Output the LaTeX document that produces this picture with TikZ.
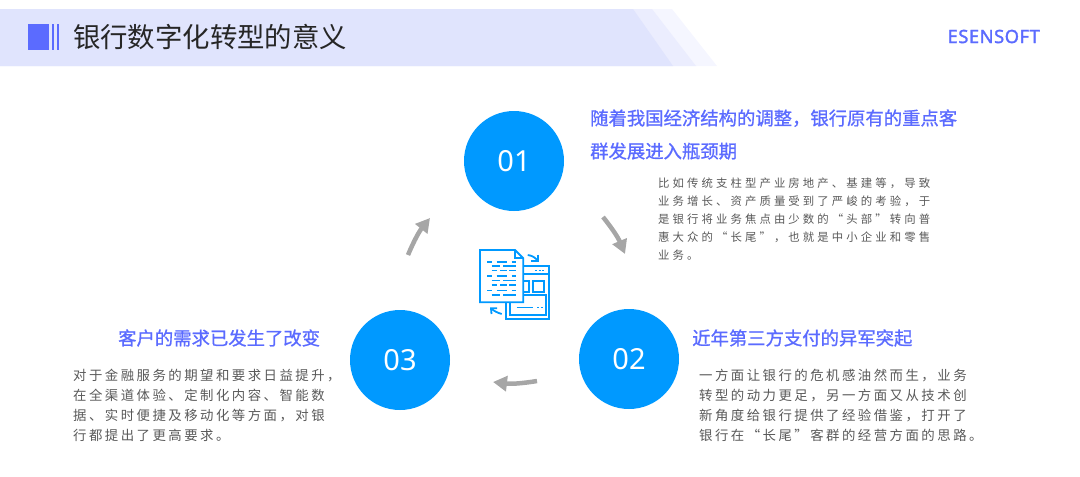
\documentclass[tikz,border=0pt]{standalone}
\usepackage{fontspec}
\usetikzlibrary{arrows.meta}
\setmainfont{Noto Sans CJK SC}
\newfontfamily\numfont{Noto Sans}
\newfontfamily\logofont{Noto Sans}[LetterSpace=3,FakeBold=1.6]
\newfontfamily\headfont{Noto Sans CJK SC}[FakeBold=1.0]
\newfontfamily\bodya{Noto Sans CJK SC}[LetterSpace=27]
\newfontfamily\bodyb{Noto Sans CJK SC}[LetterSpace=18.5]
\definecolor{bandA}{HTML}{E0E4FD}
\definecolor{bandB}{HTML}{EBEDFE}
\definecolor{bandC}{HTML}{F5F6FF}
\definecolor{brand}{HTML}{5B6BFF}
\definecolor{disc}{HTML}{0099FF}
\definecolor{turn}{HTML}{A6A6A6}
\definecolor{bodytxt}{HTML}{595959}
\tikzset{
  numdisc/.style={circle,fill=disc,text=white,minimum size=100pt,inner sep=0pt,font=\numfont\fontsize{29}{29}\selectfont},
  headtxt/.style={anchor=west,inner sep=0pt,text=brand,font=\headfont\fontsize{18.35}{33}\selectfont,align=left},
  bodytxt/.style={anchor=north west,inner sep=0pt,text=bodytxt,align=left},
  turnarrow/.style={draw=turn,line width=4.5pt,-{Triangle[length=14pt,width=15pt]}},
  iconline/.style={draw=disc,line width=1.8pt},
  icondash/.style={draw=disc,line width=1.5pt},
}
\begin{document}
\begin{tikzpicture}[x=1pt,y=-1pt]
  \useasboundingbox (0,0) rectangle (1080,477);
  % title band
  \fill[bandC] (0,9) -- (672,9) -- (717,66) -- (0,66) -- cycle;
  \fill[bandB] (0,9) -- (652,9) -- (696,66) -- (0,66) -- cycle;
  \fill[bandA] (0,9) -- (633,9) -- (673,66) -- (0,66) -- cycle;
  \fill[brand] (28,23.5) rectangle (49,49.5);
  \fill[brand] (52,23.5) rectangle (53.5,49.5);
  \fill[brand] (57,23.5) rectangle (58.8,49.5);
  \node[anchor=west,inner sep=0pt,text=black!85,font=\fontsize{27.4}{27.4}\selectfont] (title) at (73,37) {银行数字化转型的意义};
  \node[anchor=east,inner sep=0pt,text=brand,font=\logofont\fontsize{18.3}{18.3}\selectfont] (logo) at (1040,36.5) {ESENSOFT};
  % discs
  \node[numdisc] (one) at (514,161) {01};
  \node[numdisc] (two) at (629,359) {02};
  \node[numdisc] (three) at (400,360) {03};
  % turning arrows
  \coordinate (aa) at (603,217);
  \coordinate (ab) at (625,254);
  \coordinate (ba) at (537,381);
  \coordinate (bb) at (493,382);
  \coordinate (ca) at (408,255);
  \coordinate (cb) at (430,218);
  \draw[turnarrow] (aa) to[bend left=8] (ab);
  \draw[turnarrow] (ba) to[bend left=8] (bb);
  \draw[turnarrow] (ca) to[bend left=8] (cb);
  % texts
  \node[headtxt] (heada) at (590,134.5) {随着我国经济结构的调整，银行原有的重点客\\群发展进入瓶颈期};
  \node[headtxt] (headb) at (692,338) {近年第三方支付的异军突起};
  \node[headtxt] (headc) at (118,338) {客户的需求已发生了改变};
  \node[bodytxt,font=\bodya\fontsize{11.4}{18}\selectfont] (bodya) at (658,178) {比如传统支柱型产业房地产、基建等，导致\\业务增长、资产质量受到了严峻的考验，于\\是银行将业务焦点由少数的“头部”转向普\\惠大众的“长尾”，也就是中小企业和零售\\业务。};
  \node[bodytxt,font=\bodyb\fontsize{13.4}{19.9}\selectfont] (bodyb) at (699,369) {一方面让银行的危机感油然而生，业务\\转型的动力更足，另一方面又从技术创\\新角度给银行提供了经验借鉴，打开了\\银行在“长尾”客群的经营方面的思路。};
  \node[bodytxt,font=\bodyb\fontsize{13.4}{19.9}\selectfont] (bodyc) at (73,369) {对于金融服务的期望和要求日益提升，\\在全渠道体验、定制化内容、智能数\\据、实时便捷及移动化等方面，对银\\行都提出了更高要求。};
  % centre icon
  \draw[iconline] (506,265.7) rectangle (549.3,319);
  \draw[iconline] (523,274) -- (549.3,274);
  \draw[icondash,dash pattern=on 2pt off 1.6pt] (535,270.3) -- (545,270.3);
  \draw[iconline] (533.3,280.7) rectangle (544,291.7);
  \draw[iconline] (523,280.7) -- (529.3,280.7) -- (529.3,291.7) -- (523,291.7);
  \draw[iconline] (523,295) -- (546,295) -- (546,315) -- (510,315) -- (510,302);
  \draw[icondash] (516.7,307.7) -- (533.3,307.7);
  \draw[icondash,dash pattern=on 2pt off 1.6pt] (537,307.7) -- (543,307.7);
  \draw[iconline,fill=white] (480,250) -- (515,250) -- (523.3,258.3) -- (523.3,302.3) -- (480,302.3) -- cycle;
  \draw[iconline] (515,250) -- (515,258.3) -- (523.3,258.3);
  \foreach \y in {262,276,290.3} {
    \draw[icondash] (487.3,\y) -- (491.7,\y) (496.7,\y) -- (506.7,\y) (511.7,\y) -- (516,\y);
  }
  \foreach \y in {266,280.7,295} {
    \draw[icondash] (491.7,\y) -- (500,\y) (503.3,\y) -- (516,\y);
  }
  \foreach \y in {270.7,285} {
    \draw[icondash] (491.7,\y) -- (496.7,\y) (500,\y) -- (506.7,\y) (509.3,\y) -- (516,\y);
  }
  \draw[iconline] (527.7,255) .. controls (532,255.5) and (535,257.5) .. (537.7,260.5);
  \draw[iconline] (538,254.5) -- (538,261) -- (531,261);
  \draw[iconline] (501.7,314) .. controls (498,313) and (494,311) .. (491.3,308.7);
  \draw[iconline] (491.5,314) -- (491,308.3) -- (497,308.3);
\end{tikzpicture}
\end{document}
